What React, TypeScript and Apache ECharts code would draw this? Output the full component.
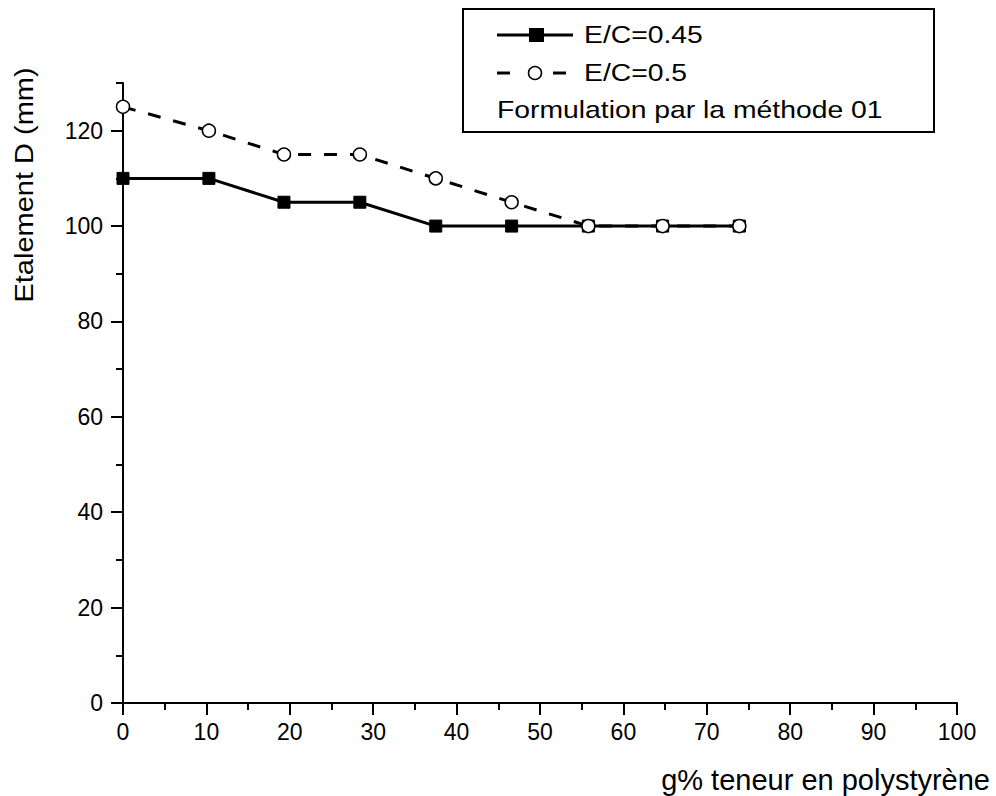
import React, { useEffect, useRef } from "react";
import * as echarts from "echarts";

const xValues = [0, 10.3, 19.3, 28.4, 37.5, 46.6, 55.8, 64.7, 73.9];
const seriesA = [110, 110, 105, 105, 100, 100, 100, 100, 100]; // E/C=0.45
const seriesB = [125, 120, 115, 115, 110, 105, 100, 100, 100]; // E/C=0.5
const nameA = "E/C=0.45";
const nameB = "E/C=0.5";
const legendNote = "Formulation par la méthode 01";
const xTitle = "g% teneur en polystyrène";
const yTitle = "Etalement D (mm)";
const yMajorTicks = [0, 20, 40, 60, 80, 100, 120];

const FONT = "'Liberation Sans', Arial, Helvetica, sans-serif";

export default function App() {
  const ref = useRef<HTMLDivElement>(null);
  useEffect(() => {
    if (!ref.current) return;
    const chart = echarts.init(ref.current, null, { renderer: "svg" });
    const black = "#000";
    chart.setOption({
      animation: false,
      backgroundColor: "#fff",
      grid: { left: 123, right: 39, top: 83, bottom: 93, containLabel: false },
      xAxis: {
        type: "value",
        min: 0,
        max: 100,
        interval: 10,
        axisLine: { show: true, lineStyle: { color: black, width: 2 } },
        axisTick: { show: true, length: 12, lineStyle: { color: black, width: 2 } },
        minorTick: { show: true, splitNumber: 2, length: 7, lineStyle: { color: black, width: 2 } },
        axisLabel: { color: black, fontSize: 23, fontFamily: FONT, margin: 17 },
        splitLine: { show: false },
      },
      yAxis: [
        {
          type: "value",
          min: 0,
          max: 130,
          interval: 10,
          axisLine: { show: true, lineStyle: { color: black, width: 2 } },
          axisTick: { show: true, length: 12, customValues: yMajorTicks, lineStyle: { color: black, width: 2 } },
          axisLabel: { color: black, fontSize: 23, fontFamily: FONT, margin: 20, customValues: yMajorTicks },
          splitLine: { show: false },
        },
        {
          type: "value",
          min: 0,
          max: 130,
          interval: 10,
          position: "left",
          axisLine: { show: false },
          axisTick: { show: true, length: 7, lineStyle: { color: black, width: 2 } },
          axisLabel: { show: false },
          splitLine: { show: false },
        },
      ],
      series: [
        {
          name: nameA,
          type: "line",
          data: xValues.map((x, i) => [x, seriesA[i]]),
          symbol: "rect",
          symbolSize: 12,
          itemStyle: { color: black, borderColor: black },
          lineStyle: { color: black, width: 3 },
          clip: true,
          z: 2,
        },
        {
          name: nameB,
          type: "line",
          data: xValues.map((x, i) => [x, seriesB[i]]),
          symbol: "circle",
          symbolSize: 13,
          itemStyle: { color: "#fff", borderColor: black, borderWidth: 1.5 },
          lineStyle: { color: black, width: 3, type: [13, 13] },
          clip: true,
          z: 3,
        },
      ],
      graphic: [
        {
          type: "rect",
          shape: { x: 463, y: 9, width: 471, height: 123 },
          style: { fill: "#fff", stroke: black, lineWidth: 2 },
          z: 10,
        },
        {
          type: "line",
          shape: { x1: 497, y1: 35, x2: 573, y2: 35 },
          style: { stroke: black, lineWidth: 3 },
          z: 11,
        },
        {
          type: "rect",
          shape: { x: 529, y: 28, width: 15, height: 14 },
          style: { fill: black },
          z: 12,
        },
        {
          type: "text",
          x: 584,
          y: 35,
          scaleX: 1.18,
          style: { text: nameA, fill: black, font: `24px ${FONT}`, textAlign: "left", textVerticalAlign: "middle" },
          z: 12,
        },
        {
          type: "line",
          shape: { x1: 497, y1: 73, x2: 510, y2: 73 },
          style: { stroke: black, lineWidth: 3 },
          z: 11,
        },
        {
          type: "line",
          shape: { x1: 553, y1: 73, x2: 566, y2: 73 },
          style: { stroke: black, lineWidth: 3 },
          z: 11,
        },
        {
          type: "circle",
          shape: { cx: 535, cy: 73, r: 6.5 },
          style: { fill: "#fff", stroke: black, lineWidth: 1.5 },
          z: 12,
        },
        {
          type: "text",
          x: 584,
          y: 73,
          scaleX: 1.18,
          style: { text: nameB, fill: black, font: `24px ${FONT}`, textAlign: "left", textVerticalAlign: "middle" },
          z: 12,
        },
        {
          type: "text",
          x: 497,
          y: 110,
          scaleX: 1.18,
          style: { text: legendNote, fill: black, font: `24px ${FONT}`, textAlign: "left", textVerticalAlign: "middle" },
          z: 12,
        },
        {
          type: "text",
          x: 990,
          y: 780,
          style: { text: xTitle, fill: black, font: `29px ${FONT}`, textAlign: "right", textVerticalAlign: "middle" },
          z: 12,
        },
        {
          type: "text",
          x: 24,
          y: 185,
          rotation: Math.PI / 2,
          scaleX: 1.16,
          style: { text: yTitle, fill: black, font: `25px ${FONT}`, textAlign: "center", textVerticalAlign: "middle" },
          z: 12,
        },
      ],
    });
    return () => chart.dispose();
  }, []);
  return <div ref={ref} style={{ width: 996, height: 796, position: "absolute", left: 0, top: 0 }} />;
}
